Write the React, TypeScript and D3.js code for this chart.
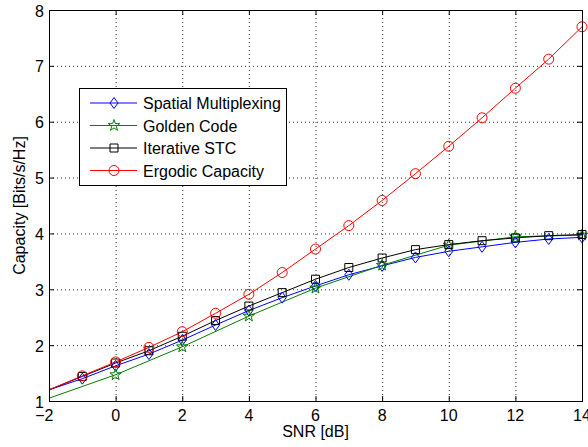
import React from "react";
import * as d3 from "d3";

// SNR grid in dB
const snr = [-2, -1, 0, 1, 2, 3, 4, 5, 6, 7, 8, 9, 10, 11, 12, 13, 14];
const snrGolden = [-2, 0, 2, 4, 6, 8, 10, 12, 14];

const spatialMux = [1.2, 1.4, 1.63, 1.84, 2.09, 2.36, 2.62, 2.85, 3.06, 3.26, 3.42, 3.57, 3.68, 3.76, 3.84, 3.9, 3.93];
const goldenCode = [1.05, 1.47, 1.97, 2.52, 3.02, 3.43, 3.79, 3.94, 3.97];
const iterativeSTC = [1.2, 1.44, 1.68, 1.9, 2.16, 2.44, 2.7, 2.94, 3.18, 3.39, 3.56, 3.71, 3.8, 3.87, 3.92, 3.96, 3.98];
const ergodic = [1.2, 1.45, 1.7, 1.96, 2.24, 2.57, 2.91, 3.3, 3.72, 4.14, 4.59, 5.07, 5.56, 6.07, 6.6, 7.12, 7.7];

const xTicks = [-2, 0, 2, 4, 6, 8, 10, 12, 14];
const yTicks = [1, 2, 3, 4, 5, 6, 7, 8];

const legendNames = ["Spatial Multiplexing", "Golden Code", "Iterative STC", "Ergodic Capacity"];

const W = 588;
const H = 447;
const M = { left: 49, right: 582, top: 10, bottom: 401 };
const FONT = "Liberation Sans, Arial, Helvetica, sans-serif";
const FS = 16;

type Marker = "diamond" | "star" | "square" | "circle";

function markerPath(kind: Marker): string {
  if (kind === "diamond") return "M0,-5.5L4,0L0,5.5L-4,0Z";
  if (kind === "square") return "M-4,-4L4,-4L4,4L-4,4Z";
  if (kind === "circle") return "M5,0A5,5 0 1,1 -5,0A5,5 0 1,1 5,0Z";
  const pts: string[] = [];
  for (let i = 0; i < 10; i++) {
    const r = i % 2 === 0 ? 6 : 2.4;
    const a = -Math.PI / 2 + (i * Math.PI) / 5;
    pts.push(`${(r * Math.cos(a)).toFixed(2)},${(r * Math.sin(a)).toFixed(2)}`);
  }
  return "M" + pts.join("L") + "Z";
}

const series = [
  { name: legendNames[0], xs: snr, ys: spatialMux, color: "#0000ff", marker: "diamond" as Marker },
  { name: legendNames[1], xs: snrGolden, ys: goldenCode, color: "#008000", marker: "star" as Marker },
  { name: legendNames[2], xs: snr, ys: iterativeSTC, color: "#000000", marker: "square" as Marker },
  { name: legendNames[3], xs: snr, ys: ergodic, color: "#ff0000", marker: "circle" as Marker },
];

export default function App() {
  const x = d3.scaleLinear().domain([-2, 14]).range([M.left, M.right]);
  const y = d3.scaleLinear().domain([1, 8]).range([M.bottom, M.top]);
  const line = d3
    .line<[number, number]>()
    .x((d) => x(d[0]))
    .y((d) => y(d[1]));

  const tickLen = 5;
  const digitHalf = FS * 0.278;

  return (
    <svg
      width={W}
      height={H}
      style={{ position: "absolute", left: 0, top: 0, background: "#fff" }}
      fontFamily={FONT}
    >
      <defs>
        <clipPath id="plotClip">
          <rect x={M.left} y={M.top} width={M.right - M.left} height={M.bottom - M.top} />
        </clipPath>
      </defs>
      <rect x={0} y={0} width={W} height={H} fill="#fff" />

      {/* dotted grid */}
      <g stroke="#000" strokeWidth={1} strokeDasharray="1,3" opacity={0.8}>
        {xTicks.slice(1, -1).map((t) => (
          <line key={"gx" + t} x1={x(t) + 0.5} x2={x(t) + 0.5} y1={M.top} y2={M.bottom} />
        ))}
        {yTicks.slice(1, -1).map((t) => (
          <line key={"gy" + t} x1={M.left} x2={M.right} y1={y(t) + 0.5} y2={y(t) + 0.5} />
        ))}
      </g>

      {/* data lines (clipped to the axes) and markers */}
      <g clipPath="url(#plotClip)">
        {series.map((s) => (
          <path
            key={s.name}
            d={line(s.xs.map((v, i) => [v, s.ys[i]] as [number, number])) || ""}
            fill="none"
            stroke={s.color}
            strokeWidth={1}
          />
        ))}
      </g>
      {series.map((s) => (
        <g key={s.name + "m"} fill="none" stroke={s.color} strokeWidth={1}>
          {s.xs.map((v, i) =>
            v > -2 ? (
              <path key={i} d={markerPath(s.marker)} transform={`translate(${x(v)},${y(s.ys[i])})`} />
            ) : null
          )}
        </g>
      ))}

      {/* axes box and inward ticks */}
      <g stroke="#000" strokeWidth={1}>
        <rect
          x={M.left + 0.5}
          y={M.top + 0.5}
          width={M.right - M.left}
          height={M.bottom - M.top}
          fill="none"
        />
        {xTicks.map((t) => (
          <g key={"tx" + t}>
            <line x1={x(t) + 0.5} x2={x(t) + 0.5} y1={M.bottom} y2={M.bottom - tickLen} />
            <line x1={x(t) + 0.5} x2={x(t) + 0.5} y1={M.top} y2={M.top + tickLen} />
          </g>
        ))}
        {yTicks.map((t) => (
          <g key={"ty" + t}>
            <line x1={M.left} x2={M.left + tickLen} y1={y(t) + 0.5} y2={y(t) + 0.5} />
            <line x1={M.right} x2={M.right - tickLen} y1={y(t) + 0.5} y2={y(t) + 0.5} />
          </g>
        ))}
      </g>

      {/* tick labels */}
      <g fontSize={FS} fill="#000">
        {xTicks.map((t) =>
          t < 0 ? (
            <text key={"lx" + t} x={x(t) + digitHalf} y={M.bottom + 20} textAnchor="end">
              {"\u2212" + Math.abs(t)}
            </text>
          ) : (
            <text key={"lx" + t} x={x(t)} y={M.bottom + 20} textAnchor="middle">
              {t}
            </text>
          )
        )}
        {yTicks.map((t) => (
          <text key={"ly" + t} x={M.left - 5} y={y(t) + 6.5} textAnchor="end">
            {t}
          </text>
        ))}
      </g>

      {/* axis titles */}
      <text x={(M.left + M.right) / 2} y={437} textAnchor="middle" fontSize={FS}>
        SNR [dB]
      </text>
      <text
        transform={`translate(25,${(M.top + M.bottom) / 2}) rotate(-90)`}
        textAnchor="middle"
        fontSize={FS}
      >
        Capacity [Bits/s/Hz]
      </text>

      {/* legend */}
      <g>
        <rect x={79.5} y={88.5} width={207} height={97} fill="#fff" stroke="#000" strokeWidth={1} />
        {series.map((s, i) => {
          const ly = 103 + i * 22.5;
          return (
            <g key={"lg" + s.name}>
              <line x1={90} x2={137} y1={ly} y2={ly} stroke={s.color} strokeWidth={1} />
              <path d={markerPath(s.marker)} transform={`translate(114,${ly})`} fill="none" stroke={s.color} />
              <text x={143} y={ly + 6} fontSize={FS}>
                {s.name}
              </text>
            </g>
          );
        })}
      </g>
    </svg>
  );
}
